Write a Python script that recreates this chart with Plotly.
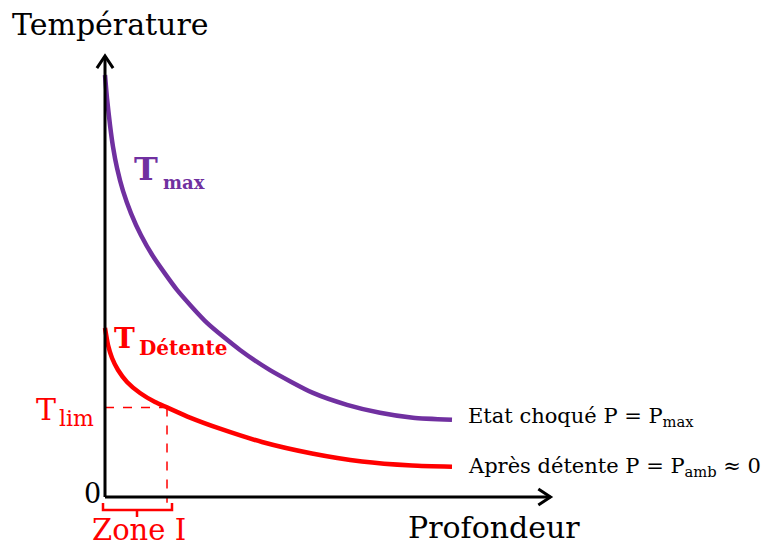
import plotly.graph_objects as go

# Depth / temperature profiles (arbitrary units)
depth_max = [0.000, 0.044, 0.111, 0.178, 0.267, 0.400, 0.578, 0.800, 1.067, 1.600,
             2.267, 3.000, 3.667, 4.622, 5.378, 6.111, 6.844, 7.711]
temp_max = [9.378, 8.867, 8.267, 7.780, 7.309, 6.802, 6.304, 5.816, 5.349, 4.602,
            3.869, 3.267, 2.820, 2.313, 2.049, 1.873, 1.762, 1.718]

depth_det = [0.000, 0.067, 0.156, 0.289, 0.489, 0.778, 1.111, 1.378, 1.889, 2.556,
             3.489, 4.600, 5.711, 6.822, 7.711]
temp_det = [3.756, 3.378, 3.089, 2.822, 2.556, 2.311, 2.111, 1.991, 1.764, 1.518,
            1.222, 0.967, 0.789, 0.700, 0.673]

# Limit temperature: point on the relaxed curve bounding zone I
i_lim = 7
x_lim, t_lim = depth_det[i_lim], temp_det[i_lim]

W, H = 769, 549
ORIGIN = (105, 497)   # pixel position of (0, 0)
SCALE = 45.0          # pixels per unit

PURPLE = "#7030A0"
RED = "#FF0000"
SERIF = "DejaVu Serif"


def fx(p):
    return p / W


def fy(p):
    return 1 - p / H


fig = go.Figure()

fig.add_trace(go.Scatter(x=depth_max, y=temp_max, mode="lines",
                         line=dict(color=PURPLE, width=4.5, shape="spline", smoothing=0.6),
                         hoverinfo="skip"))
fig.add_trace(go.Scatter(x=depth_det, y=temp_det, mode="lines",
                         line=dict(color=RED, width=4.5, shape="spline", smoothing=0.6),
                         hoverinfo="skip"))

shapes = []
# dashed guides to T_lim
shapes.append(dict(type="line", xref="x", yref="y", x0=0, y0=t_lim, x1=x_lim, y1=t_lim,
                   line=dict(color=RED, width=1.5, dash="dash")))
shapes.append(dict(type="line", xref="x", yref="y", x0=x_lim, y0=t_lim, x1=x_lim, y1=-0.13,
                   line=dict(color=RED, width=1.5, dash="dash")))

# axes with open arrowheads
y_top = 9.8
x_right = 9.9
ah_w, ah_h = 0.18, 0.27
shapes.append(dict(type="line", xref="x", yref="y", x0=0, y0=0, x1=0, y1=y_top,
                   line=dict(color="black", width=3)))
shapes.append(dict(type="line", xref="x", yref="y", x0=0, y0=0, x1=x_right, y1=0,
                   line=dict(color="black", width=3)))
shapes.append(dict(type="path", xref="x", yref="y",
                   path=f"M {-ah_w} {y_top - ah_h} L 0 {y_top} L {ah_w} {y_top - ah_h}",
                   line=dict(color="black", width=3)))
shapes.append(dict(type="path", xref="x", yref="y",
                   path=f"M {x_right - ah_h} {ah_w} L {x_right} 0 L {x_right - ah_h} {-ah_w}",
                   line=dict(color="black", width=3)))

# bracket under zone I
shapes.append(dict(type="path", xref="paper", yref="paper",
                   path=(f"M {fx(103)} {fy(503)} L {fx(103)} {fy(510)} L {fx(172)} {fy(510)} "
                         f"L {fx(172)} {fy(503)} M {fx(137)} {fy(510)} L {fx(137)} {fy(517)}"),
                   line=dict(color=RED, width=2.5)))

annotations = []


def text(s, x, y, size, color="black", family=SERIF, xanchor="center", yanchor="middle"):
    annotations.append(dict(text=s, x=fx(x), y=fy(y), xref="paper", yref="paper",
                            showarrow=False, xanchor=xanchor, yanchor=yanchor,
                            font=dict(family=family, size=size, color=color)))


text("Température", 110, 24, 30)
text("Profondeur", 494, 527, 30)
text("0", 92, 493, 27)
text("Zone I", 139, 549, 29, RED, yanchor="bottom")

# T_lim
text("T", 46, 409, 30, RED)
text("lim", 57, 418, 22, RED, xanchor="left")

# curve labels (bold)
text("<b>T</b>", 146, 169, 32, PURPLE)
text("<b>max</b>", 161, 182, 18, PURPLE, xanchor="left")
text("<b>T</b>", 125, 338, 28, RED)
text("<b>Détente</b>", 137, 348, 20, RED, xanchor="left")

# end-of-curve descriptions
text("Etat choqué P = P<sub>max</sub>", 466, 417, 21, xanchor="left")
text("Après détente P = P<sub>amb</sub> ≈ 0", 466, 467, 21, xanchor="left")

fig.update_layout(
    width=W, height=H,
    margin=dict(l=0, r=0, t=0, b=0),
    paper_bgcolor="white", plot_bgcolor="white",
    showlegend=False,
    shapes=shapes,
    annotations=annotations,
    xaxis=dict(range=[-ORIGIN[0] / SCALE, (W - ORIGIN[0]) / SCALE], visible=False, fixedrange=True),
    yaxis=dict(range=[-(H - ORIGIN[1]) / SCALE, ORIGIN[1] / SCALE], visible=False, fixedrange=True),
)

fig.write_html("out.html")
